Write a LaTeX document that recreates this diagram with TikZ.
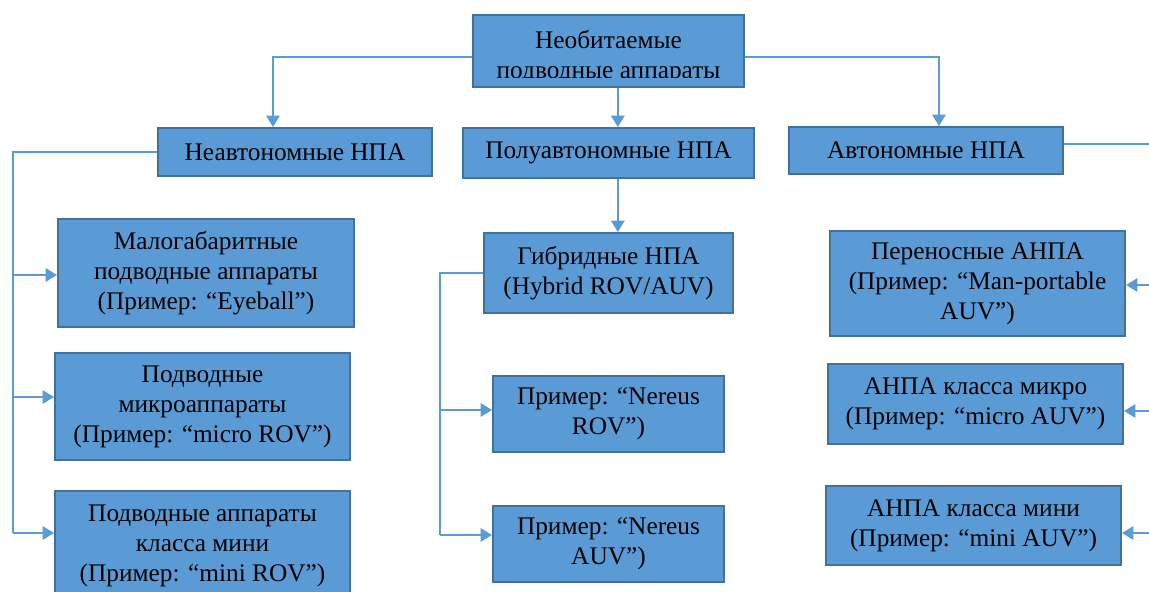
\documentclass[tikz,border=0pt]{standalone}
\usepackage{fontspec}
\setmainfont{Liberation Serif}
\usetikzlibrary{arrows.meta}
\definecolor{boxfill}{HTML}{5B9BD5}
\definecolor{boxedge}{HTML}{41719C}
\definecolor{linecol}{HTML}{5B9BD5}
\tikzset{
  box/.style={draw=boxedge, line width=1.5pt, fill=boxfill, align=center, inner sep=0pt,
    font=\fontsize{19pt}{22.5pt}\selectfont},
  txt/.style={align=center, inner sep=0pt, font=\fontsize{19pt}{22.5pt}\selectfont},
  conn/.style={draw=linecol, line width=1.5pt},
  arr/.style={conn, -{Triangle[length=8.5pt,width=10pt]}}
}
\begin{document}
\begin{tikzpicture}[x=0.75pt,y=-0.75pt]
\useasboundingbox (0,0) rectangle (1149,592);
\clip (0,0) rectangle (1149,592);
% top box with clipped text
\node[box, minimum width=203.25pt, minimum height=54pt] (top) at (608.5,51) {};
\begin{scope}
\clip (474,16) rectangle (743,78);
\node[txt, anchor=base] at (608.5,49) {Необитаемые};
\node[txt, anchor=base] at (608.5,79) {подводные аппараты};
\end{scope}
% second level
\node[box, minimum width=205.5pt, minimum height=36pt] (neavt) at (295,152) {Неавтономные НПА};
\node[box, minimum width=218.25pt, minimum height=37.5pt] (polu) at (608.5,153) {Полуавтономные НПА};
\node[box, minimum width=205.5pt, minimum height=35.25pt] (avt) at (926,150.5) {Автономные НПА};
% left column
\node[box, minimum width=222pt, minimum height=81pt] (mal) at (206,273) {Малогабаритные\\подводные аппараты\\(Пример: “Eyeball”)};
\node[box, minimum width=221.25pt, minimum height=80.25pt] (mik) at (202.5,406.5) {Подводные\\микроаппараты\\(Пример: “micro ROV”)};
\node[box, minimum width=221.25pt, minimum height=81.75pt] (mini) at (202.5,545.5) {Подводные аппараты\\класса мини\\(Пример: “mini ROV”)};
% middle column
\node[box, minimum width=186.75pt, minimum height=60pt] (gib) at (608.5,273) {Гибридные НПА\\(Hybrid ROV/AUV)};
\node[box, minimum width=173.25pt, minimum height=57pt] (nrov) at (608.5,414) {Пример: “Nereus\\ROV”)};
\node[box, minimum width=173.25pt, minimum height=57pt] (nauv) at (608.5,544) {Пример: “Nereus\\AUV”)};
% right column
\node[box, minimum width=221.25pt, minimum height=78.75pt] (per) at (977.5,283.5) {Переносные АНПА\\(Пример: “Man-portable\\AUV”)};
\node[box, minimum width=221.25pt, minimum height=60pt] (amik) at (975.5,404) {АНПА класса микро\\(Пример: “micro AUV”)};
\node[box, minimum width=221.25pt, minimum height=59.25pt] (amini) at (973.5,525.5) {АНПА класса мини\\(Пример: “mini AUV”)};
% connectors from top
\draw[arr] ([yshift=-4.5pt]top.west) -| ([xshift=-16.5pt]neavt.north);
\draw[arr] ([yshift=-4.5pt]top.east) -| ([xshift=9.75pt]avt.north);
\draw[arr] ([xshift=7pt]top.south) -- ([xshift=7pt]top.south |- polu.north);
\draw[arr] ([xshift=7pt]polu.south) -- ([xshift=7pt]polu.south |- gib.north);
% left trunk
\coordinate (l1) at (13,275);
\coordinate (l2) at (13,397);
\coordinate (l3) at (13,533);
\draw[conn] (neavt.west) -| (l3);
\draw[arr] (l1) -- (l1 -| mal.west);
\draw[arr] (l2) -- (l2 -| mik.west);
\draw[arr] (l3) -- (l3 -| mini.west);
% middle trunk
\coordinate (m1) at (440,410);
\coordinate (m2) at (440,535);
\draw[conn] (gib.west) -| (m2);
\draw[arr] (m1) -- (m1 -| nrov.west);
\draw[arr] (m2) -- (m2 -| nauv.west);
% right trunk (off the picture)
\coordinate (r0) at (1165,144);
\coordinate (r1) at (1165,285);
\coordinate (r2) at (1165,411);
\coordinate (r3) at (1165,533);
\draw[conn] ([yshift=4.875pt]avt.east) -- (r0) -- (r3);
\draw[arr] (r1) -- (r1 -| per.east);
\draw[arr] (r2) -- (r2 -| amik.east);
\draw[arr] (r3) -- (r3 -| amini.east);
\end{tikzpicture}
\end{document}
